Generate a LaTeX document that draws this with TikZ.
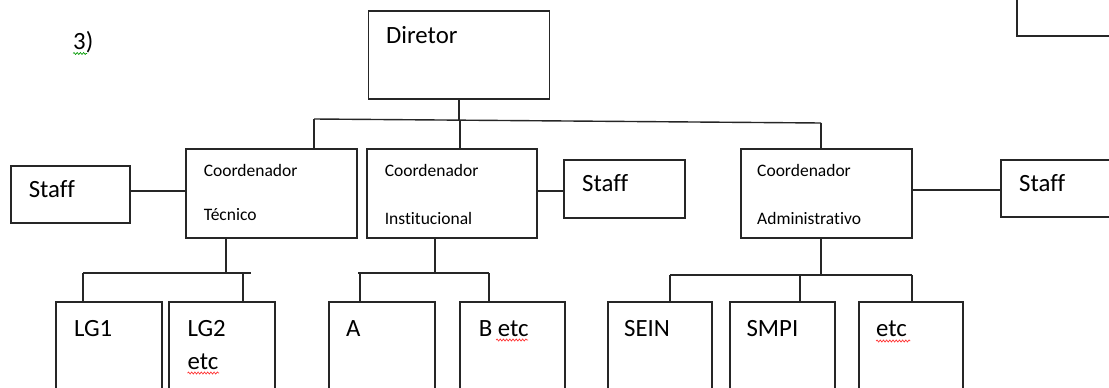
\documentclass[tikz,border=0pt]{standalone}
\usepackage{fontspec}
\setmainfont{Carlito}[Ligatures={NoCommon}]
\usetikzlibrary{decorations.pathmorphing}
\tikzset{
  box/.style={draw=black!85, rectangle, inner sep=0pt, line width=1.4pt},
  big/.style={anchor=base west, inner sep=0pt, font=\fontsize{24.8}{28}\selectfont},
  small/.style={anchor=base west, inner sep=0pt, font=\fontsize{17.5}{20}\selectfont},
  conn/.style={draw=black!85, line width=1.4pt},
  squig/.style={line width=0.7pt, decorate, decoration={snake, segment length=3.2pt, amplitude=1pt}}
}
\newcommand{\bx}[6]{\node[box, minimum width=#4, minimum height=#5] (#1) at (#2,#3) {};}
\begin{document}
\begin{tikzpicture}[x=1pt,y=-1pt]
\useasboundingbox (0,0) rectangle (1109,388);
\clip (0,0) rectangle (1109,388);
% boxes
\bx{dir}{459}{55}{181pt}{88pt}{}
\bx{topr}{1073.5}{8}{113pt}{56pt}{}
\bx{tec}{271.5}{193.5}{171pt}{89pt}{}
\bx{inst}{452}{193.5}{170pt}{89pt}{}
\bx{adm}{826.5}{193.5}{171pt}{89pt}{}
\bx{staffL}{70.5}{194.5}{119pt}{57pt}{}
\bx{staffM}{624.5}{189}{121pt}{58pt}{}
\bx{staffR}{1065.5}{188.5}{129pt}{57pt}{}
\bx{lga}{109}{361}{106pt}{118pt}{}
\bx{lgb}{222}{361}{106pt}{118pt}{}
\bx{ba}{382}{361}{106pt}{118pt}{}
\bx{bb}{512.5}{361}{105pt}{118pt}{}
\bx{sein}{660}{361}{104pt}{118pt}{}
\bx{smpi}{782.5}{361}{105pt}{118pt}{}
\bx{etcb}{911}{361}{104pt}{118pt}{}
% texts
\node[big] (t3) at (73,49) {3)};
\node[big] (tdir) at (386,43.3) {Diretor};
\node[big] (tsl) at (28.6,197.7) {Staff};
\node[big] (tsm) at (582,191.7) {Staff};
\node[big] (tsr) at (1019,191.7) {Staff};
\node[small] (tc1) at (203.6,176.7) {Coordenador};
\node[small] (tc2) at (203.6,220) {Técnico};
\node[small] (ti1) at (384.6,176.7) {Coordenador};
\node[small] (ti2) at (384.6,224.3) {Institucional};
\node[small] (ta1) at (757,176.7) {Coordenador};
\node[small] (ta2) at (757,224.3) {Administrativo};
\node[big] (tlg1) at (74,336) {LG1};
\node[big] (tlg2) at (187.5,336) {LG2};
\node[big] (tlg2e) at (187.5,369.3) {etc};
\node[big] (tA) at (346,336) {A};
\node[big] (tB) at (478.6,336) {B etc};
\node[big] (tsein) at (624,336) {SEIN};
\node[big] (tsmpi) at (746.4,336) {SMPI};
\node[big] (tetc) at (876,336) {etc};
% spelling marks
\draw[squig, green!60!black] (73,53.5) -- (87,53.5);
\draw[squig, red!80] (187.5,373) -- (219,373);
\draw[squig, red!80] (496,340) -- (528,340);
\draw[squig, red!80] (876,341) -- (910,341);
% top level
\coordinate (busL) at (314,119);
\coordinate (busM) at (459,120.5);
\coordinate (busI) at (460,120.6);
\coordinate (busR) at (821,123);
\draw[conn] (dir.south) -- (busM);
\draw[conn] (busL) -- (busR);
\draw[conn] (busL) -- (busL |- tec.north);
\draw[conn] (busI) -- (busI |- inst.north);
\draw[conn] (busR) -- (busR |- adm.north);
% staff links
\coordinate (yL) at (0,191);
\coordinate (yM) at (0,191);
\coordinate (yR) at (0,190);
\draw[conn] (staffL.east |- yL) -- (tec.west |- yL);
\draw[conn] (inst.east |- yM) -- (staffM.west |- yM);
\draw[conn] (adm.east |- yR) -- (staffR.west |- yR);
% technico subtree
\coordinate (tecd) at (226,273);
\coordinate (tecl) at (83,273);
\coordinate (tecr) at (251,273);
\coordinate (tec2) at (243,273);
\draw[conn] (tecd |- tec.south) -- (tecd);
\draw[conn] (tecl) -- (tecr);
\draw[conn] (tecl) -- (tecl |- lga.north);
\draw[conn] (tec2) -- (tec2 |- lgb.north);
% institucional subtree
\coordinate (insd) at (435,273);
\coordinate (insl) at (358,273);
\coordinate (insa) at (360,273);
\coordinate (insr) at (489,273);
\draw[conn] (insd |- inst.south) -- (insd);
\draw[conn] (insl) -- (insr);
\draw[conn] (insa) -- (insa |- ba.north);
\draw[conn] (insr) -- (insr |- bb.north);
% administrativo subtree
\coordinate (admd) at (821,275);
\coordinate (adml) at (670,275);
\coordinate (admm) at (800,275);
\coordinate (admr) at (912,275);
\draw[conn] (admd |- adm.south) -- (admd);
\draw[conn] (adml) -- (admr);
\draw[conn] (adml) -- (adml |- sein.north);
\draw[conn] (admm) -- (admm |- smpi.north);
\draw[conn] (admr) -- (admr |- etcb.north);
\end{tikzpicture}
\end{document}
